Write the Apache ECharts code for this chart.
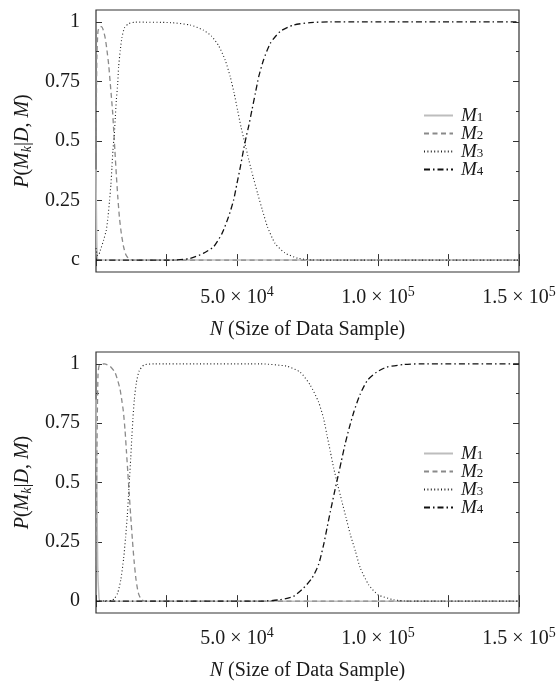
<!DOCTYPE html>
<html><head><meta charset="utf-8">
<script src="https://cdn.jsdelivr.net/npm/echarts@6/dist/echarts.min.js"></script>
<style>html,body{margin:0;padding:0;background:#fff;}#c1,#c2{width:556px;height:341px;}</style>
</head><body><div id="c1"></div><div id="c2"></div>
<script>
// ---------- data ----------
const seriesNames = ['M1', 'M2', 'M3', 'M4'];
const seriesSubs = ['1', '2', '3', '4'];
const xTickInterval = 25000;
const xLabelValues = [50000, 100000, 150000];
const xLabelMantissa = ['5.0', '1.0', '1.5'];
const xLabelExponent = ['4', '5', '5'];
const yMajorTicks = [0, 0.25, 0.5, 0.75, 1];
const yMinorTicks = [0.125, 0.375, 0.625, 0.875];
const yLabelsTop = ['c', '0.25', '0.5', '0.75', '1'];
const yLabelsBottom = ['0', '0.25', '0.5', '0.75', '1'];

// top panel: [N, P]
const top_M1 = [[0,0.38],[150,0.2],[300,0.06],[500,0.01],[800,0],[150000,0]];
const top_M2 = [[0,0.45],[300,0.85],[700,0.96],[1300,0.98],[1900,0.98],[2600,0.965],[3300,0.93],[3900,0.88],[4500,0.82],[5000,0.75],[5500,0.68],[5900,0.62],[6300,0.54],[6700,0.46],[7200,0.36],[7700,0.27],[8300,0.18],[9000,0.11],[9800,0.055],[10600,0.022],[11600,0.006],[13000,0],[150000,0]];
const top_M3 = [[0,0.05],[500,0.02],[900,0.02],[1500,0.04],[2700,0.084],[3650,0.126],[4250,0.18],[4800,0.25],[5300,0.32],[5650,0.39],[6000,0.46],[6500,0.53],[6850,0.6],[7200,0.67],[7700,0.74],[8000,0.81],[8600,0.88],[9200,0.935],[10100,0.975],[11600,0.993],[14000,0.999],[26400,0.997],[33400,0.987],[38000,0.966],[41000,0.94],[43500,0.9],[45800,0.84],[47600,0.77],[49000,0.7],[50200,0.63],[51400,0.56],[52800,0.49],[54200,0.42],[55700,0.35],[57300,0.28],[59000,0.21],[60800,0.14],[63500,0.07],[67000,0.03],[71500,0.008],[76000,0.001],[80000,0],[150000,0]];
const top_M4 = [[0,0],[26400,0],[33400,0.007],[38000,0.028],[41700,0.056],[44700,0.112],[47000,0.182],[48800,0.252],[50000,0.322],[51200,0.392],[52300,0.462],[53300,0.52],[54100,0.56],[55300,0.63],[56500,0.7],[57700,0.77],[59400,0.84],[61800,0.91],[65300,0.96],[70000,0.987],[76000,0.997],[83000,1],[150000,1]];

// bottom panel: [N, P]
const bot_M1 = [[0,0.85],[300,0.5],[600,0.15],[1000,0.03],[1500,0],[150000,0]];
const bot_M2 = [[0,0.15],[300,0.6],[700,0.95],[1200,0.995],[3000,1],[5000,0.99],[6700,0.965],[7700,0.93],[8500,0.895],[9100,0.85],[9700,0.8],[10300,0.72],[10800,0.63],[11300,0.54],[11800,0.45],[12300,0.36],[12900,0.26],[13500,0.17],[14200,0.09],[15000,0.035],[16000,0.008],[17500,0],[150000,0]];
const bot_M3 = [[0,0],[5500,0.003],[6500,0.01],[7700,0.035],[8800,0.09],[9800,0.18],[10500,0.27],[11100,0.36],[11500,0.44],[11900,0.52],[12300,0.6],[12700,0.69],[13100,0.77],[13600,0.85],[14300,0.92],[15300,0.97],[17000,0.995],[20500,1],[58300,1],[67700,0.99],[72400,0.965],[76000,0.91],[78900,0.84],[80700,0.77],[81900,0.7],[83100,0.63],[84300,0.56],[85700,0.49],[87200,0.42],[88700,0.35],[90200,0.28],[92000,0.21],[93700,0.14],[96700,0.069],[100000,0.027],[105500,0.006],[111000,0],[150000,0]];
const bot_M4 = [[0,0],[58300,0],[65300,0.006],[70000,0.02],[73600,0.055],[76600,0.097],[78900,0.153],[80700,0.237],[81900,0.307],[83100,0.377],[84400,0.45],[85700,0.52],[87000,0.59],[88300,0.66],[89800,0.73],[91500,0.8],[93600,0.87],[96200,0.93],[99500,0.965],[103000,0.986],[109000,0.997],[115000,1],[150000,1]];

// ---------- styling ----------
const FONT = 'Liberation Serif';
const AX = '#333';
const TXT = '#1a1a1a';
const lineStyles = [
  {color: '#bdbdbd', width: 1.5, type: 'solid'},
  {color: '#8a8a8a', width: 1.3, type: [5, 3.5]},
  {color: '#222', width: 1.1, type: [1, 2.4]},
  {color: '#111', width: 1.3, type: [6, 3, 1.5, 3]}
];

function buildOption(data, yLabels, gridTop, gridHeight, legendTop) {
  const gridLeft = 96, gridWidth = 423;
  const yBase = {
    type: 'value', min: -0.05, max: 1.05, gridIndex: 0,
    axisLine: {show: false}, splitLine: {show: false}
  };
  return {
    animation: false,
    textStyle: {fontFamily: FONT},
    grid: {left: gridLeft, top: gridTop, width: gridWidth, height: gridHeight, show: true,
           containLabel: false, outerBoundsMode: 'none',
           borderColor: AX, borderWidth: 1.2, backgroundColor: 'transparent'},
    legend: {
      orient: 'vertical', left: 423, top: legendTop, padding: 0,
      itemWidth: 29, itemHeight: 14, itemGap: -1,
      data: seriesNames,
      itemStyle: {opacity: 0},
      formatter: function (name) { return '{it|M}{sub|' + seriesSubs[seriesNames.indexOf(name)] + '}'; },
      textStyle: {
        color: TXT, padding: [0, 0, 0, 3],
        rich: {
          it: {fontFamily: FONT, fontStyle: 'italic', fontSize: 19, lineHeight: 17.5, color: TXT},
          sub: {fontFamily: FONT, fontSize: 13, lineHeight: 17.5, verticalAlign: 'bottom', color: TXT}
        }
      }
    },
    xAxis: [
      {
        type: 'value', min: 0, max: 150000, interval: xTickInterval, position: 'bottom',
        axisLine: {show: false}, splitLine: {show: false},
        axisTick: {show: true, inside: true, length: 6, lineStyle: {color: AX, width: 1}},
        axisLabel: {
          show: true, margin: 13, customValues: xLabelValues,
          formatter: function (v) {
            const i = xLabelValues.indexOf(v);
            if (i < 0) return '';
            return '{m|' + xLabelMantissa[i] + ' \u00d7 10}{e|' + xLabelExponent[i] + '}';
          },
          rich: {
            m: {fontFamily: FONT, fontSize: 20, lineHeight: 26, color: TXT},
            e: {fontFamily: FONT, fontSize: 14, lineHeight: 14, verticalAlign: 'top', color: TXT}
          }
        },
        name: '{it|N}{rm| (Size of Data Sample)}', nameLocation: 'middle', nameGap: 48,
        nameTextStyle: {
          rich: {
            it: {fontFamily: FONT, fontStyle: 'italic', fontSize: 20, color: TXT},
            rm: {fontFamily: FONT, fontSize: 20, color: TXT}
          }
        }
      },
      {
        type: 'value', min: 0, max: 150000, interval: xTickInterval, position: 'top',
        axisLine: {show: false}, splitLine: {show: false}, axisLabel: {show: false},
        axisTick: {show: true, inside: true, length: 6, lineStyle: {color: AX, width: 1}}
      }
    ],
    yAxis: [
      Object.assign({}, yBase, {
        position: 'left',
        axisTick: {show: true, inside: true, length: 6, customValues: yMajorTicks, lineStyle: {color: AX, width: 1}},
        axisLabel: {
          show: true, margin: 16, customValues: yMajorTicks,
          fontFamily: FONT, fontSize: 20, color: TXT,
          formatter: function (v) { return yLabels[yMajorTicks.indexOf(v)]; }
        },
        name: '{it|P}{rm|(}{it|M}{sub|k}{rm||}{it|D}{rm|, }{it|M}{rm|)}',
        nameLocation: 'middle', nameRotate: 90, nameGap: 62,
        nameTextStyle: {
          rich: {
            it: {fontFamily: FONT, fontStyle: 'italic', fontSize: 20, lineHeight: 22, color: TXT},
            rm: {fontFamily: FONT, fontSize: 20, lineHeight: 22, color: TXT},
            sub: {fontFamily: FONT, fontStyle: 'italic', fontSize: 14, lineHeight: 22, verticalAlign: 'bottom', color: TXT}
          }
        }
      }),
      Object.assign({}, yBase, {
        position: 'left', axisLabel: {show: false},
        axisTick: {show: true, inside: true, length: 3, customValues: yMinorTicks, lineStyle: {color: AX, width: 1}}
      }),
      Object.assign({}, yBase, {
        position: 'right', axisLabel: {show: false},
        axisTick: {show: true, inside: true, length: 6, customValues: yMajorTicks, lineStyle: {color: AX, width: 1}}
      }),
      Object.assign({}, yBase, {
        position: 'right', axisLabel: {show: false},
        axisTick: {show: true, inside: true, length: 3, customValues: yMinorTicks, lineStyle: {color: AX, width: 1}}
      })
    ],
    series: seriesNames.map(function (name, i) {
      return {
        name: name, type: 'line', xAxisIndex: 0, yAxisIndex: 0,
        data: data[i], symbol: 'none', showSymbol: false, smooth: 0.2,
        lineStyle: lineStyles[i], itemStyle: {color: lineStyles[i].color},
        emphasis: {disabled: true}, z: 2 + i
      };
    })
  };
}

const c1 = echarts.init(document.getElementById('c1'));
c1.setOption(buildOption([top_M1, top_M2, top_M3, top_M4], yLabelsTop, 10, 262, 106));
const c2 = echarts.init(document.getElementById('c2'));
c2.setOption(buildOption([bot_M1, bot_M2, bot_M3, bot_M4], yLabelsBottom, 11, 261, 103));
</script>
</body></html>
